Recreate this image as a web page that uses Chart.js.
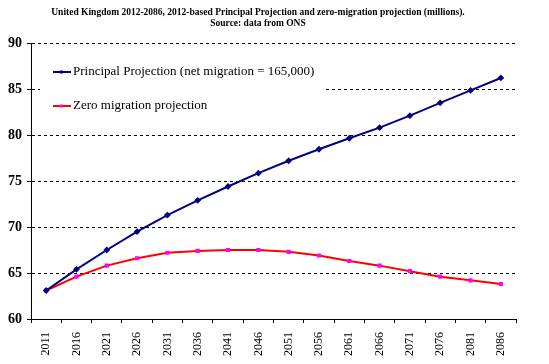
<!DOCTYPE html>
<html>
<head>
<meta charset="utf-8">
<script src="https://cdn.jsdelivr.net/npm/chart.js@4"></script>
<style>
  html, body { margin: 0; padding: 0; background: #fff; }
</style>
</head>
<body>
<canvas id="chart" width="549" height="364"></canvas>
<script>
// values (millions)
const years = ['2011', '2016', '2021', '2026', '2031', '2036', '2041', '2046',
  '2051', '2056', '2061', '2066', '2071', '2076', '2081', '2086'];
const principal = [63.1, 65.4, 67.5, 69.5, 71.3, 72.9, 74.4, 75.85,
  77.2, 78.45, 79.65, 80.8, 82.1, 83.5, 84.85, 86.2];
const zeroMigration = [63.1, 64.6, 65.8, 66.6, 67.2, 67.4, 67.5, 67.5,
  67.3, 66.9, 66.3, 65.8, 65.2, 64.6, 64.2, 63.8];
const seriesNames = ['Principal Projection (net migration = 165,000)', 'Zero migration projection'];
const titleLines = [
  'United Kingdom 2012-2086, 2012-based Principal Projection and zero-migration projection (millions).',
  'Source: data from ONS'
];

const serif = 'Liberation Serif';

// Excel-style legend sitting inside the plot, over the grid lines
const boxLegend = {
  id: 'boxLegend',
  beforeDatasetsDraw(chart) {
    const ctx = chart.ctx;
    ctx.save();
    ctx.fillStyle = '#fff';
    ctx.fillRect(40, 52, 285, 70);
    chart.data.datasets.forEach((ds, i) => {
      const y = 72 + i * 34;
      ctx.strokeStyle = ds.borderColor;
      ctx.lineWidth = 2;
      ctx.beginPath();
      ctx.moveTo(53, y);
      ctx.lineTo(71, y);
      ctx.stroke();
      ctx.fillStyle = ds.pointBackgroundColor;
      ctx.fillRect(60, y - 1.5, 3, 3);
      ctx.fillStyle = '#000';
      ctx.font = '13px "' + serif + '"';
      ctx.textBaseline = 'middle';
      ctx.fillText(ds.label, 73, y);
    });
    ctx.restore();
  }
};

new Chart(document.getElementById('chart'), {
  type: 'line',
  data: {
    labels: years,
    datasets: [{
      label: seriesNames[0],
      data: principal,
      borderColor: '#000080',
      backgroundColor: '#000080',
      pointBackgroundColor: '#000080',
      pointBorderColor: '#000080',
      pointStyle: 'rectRot',
      pointRadius: 2,
      borderWidth: 2,
      tension: 0
    }, {
      label: seriesNames[1],
      data: zeroMigration,
      borderColor: '#ff0000',
      backgroundColor: '#ff00ff',
      pointBackgroundColor: '#ff00ff',
      pointBorderColor: '#ff00ff',
      pointStyle: 'rect',
      pointRadius: 1.5,
      borderWidth: 2,
      tension: 0
    }]
  },
  options: {
    responsive: false,
    animation: false,
    devicePixelRatio: 1,
    layout: { padding: { left: 0, right: 33, top: 0, bottom: 0 } },
    plugins: {
      legend: { display: false },
      tooltip: { enabled: false },
      title: {
        display: true,
        text: titleLines,
        color: '#000',
        font: { family: serif, size: 9.5, weight: 'bold' },
        padding: { top: 6.5, bottom: 13.7 }
      }
    },
    scales: {
      x: {
        offset: true,
        ticks: {
          minRotation: 90,
          maxRotation: 90,
          autoSkip: false,
          padding: 9,
          color: '#000',
          font: { family: serif, size: 12 }
        },
        grid: { offset: true, drawOnChartArea: false, drawTicks: true, tickLength: 4, color: '#000' },
        border: { color: '#000', width: 1 },
        afterFit(scale) { scale.height = 45; }
      },
      y: {
        min: 60,
        max: 90,
        ticks: {
          stepSize: 5,
          padding: 5,
          color: '#000',
          font: { family: serif, size: 14, weight: 'bold' }
        },
        grid: { color: '#000', lineWidth: 1, tickLength: 4, tickColor: '#000' },
        border: { display: true, color: '#000', width: 1, dash: [3, 3] },
        afterFit(scale) { scale.width = 31; }
      }
    }
  },
  plugins: [boxLegend]
});
</script>
</body>
</html>
